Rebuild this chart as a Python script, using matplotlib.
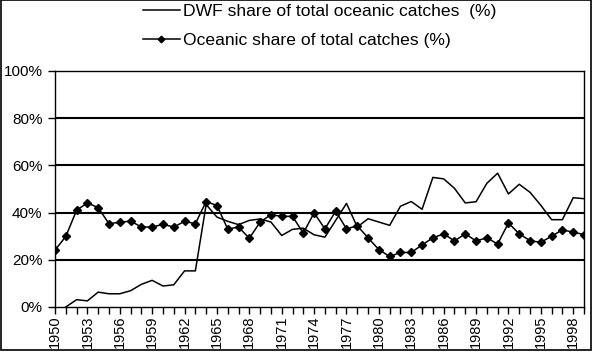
import matplotlib
matplotlib.use('Agg')
import matplotlib.pyplot as plt
from matplotlib.ticker import FixedLocator, PercentFormatter
import numpy as np

plt.rcParams['font.family'] = ['Liberation Sans', 'DejaVu Sans']

# Dados
years = list(range(1950, 2000))
dwf_share = [np.nan, 0.0, 3.1, 2.6, 6.3, 5.6, 5.6, 6.9, 9.6, 11.3,
             8.9, 9.4, 15.3, 15.3, 43.4, 38.1, 36.3, 34.9, 36.7, 37.3,
             36.0, 30.3, 32.9, 33.4, 30.6, 29.6, 36.7, 43.9, 33.9, 37.4,
             36.0, 34.6, 42.7, 44.7, 41.4, 54.9, 54.3, 50.3, 44.1, 44.6,
             52.4, 56.7, 47.9, 52.0, 48.6, 43.1, 37.0, 37.0, 46.3, 45.9]
oceanic_share = [24.1, 29.9, 41.0, 44.1, 42.1, 35.3, 35.9, 36.4, 33.9, 33.9,
                 35.0, 33.9, 36.3, 35.3, 44.7, 43.0, 33.0, 33.9, 29.1, 36.0,
                 39.1, 38.4, 38.4, 31.3, 39.9, 33.1, 40.6, 33.1, 34.4, 29.3,
                 24.3, 21.4, 23.1, 23.1, 26.3, 29.3, 31.0, 28.0, 31.0, 28.0,
                 29.3, 26.7, 35.6, 31.0, 28.1, 27.4, 30.0, 32.7, 31.7, 30.7]
yticks = [0, 20, 40, 60, 80, 100]

fig = plt.figure(figsize=(5.92, 3.52), dpi=100)
ax = fig.add_axes([55 / 592, 1 - 307 / 352, (584 - 55) / 592, (307 - 71) / 352])

x = np.arange(len(years))
l1, = ax.plot(x, dwf_share, color='black', lw=1.1)
l2, = ax.plot(x, oceanic_share, color='black', lw=1.1, marker='D', markersize=4.2)

ax.set_xlim(0, len(years) - 1)
ax.set_ylim(0, 100)
for v in yticks[1:-1]:
    ax.axhline(v, color='black', lw=1.5, zorder=0)

ax.set_yticks(yticks)
ax.yaxis.set_major_formatter(PercentFormatter(decimals=0))
ax.xaxis.set_major_locator(FixedLocator(x[::3]))
ax.xaxis.set_minor_locator(FixedLocator(x))
ax.set_xticklabels([str(y) for y in years[::3]], rotation=90, fontsize=10.5)
ax.tick_params(axis='y', labelsize=11, direction='out', length=5, width=1, pad=4)
ax.tick_params(axis='x', which='both', direction='out', length=5, width=1, pad=1)
for s in ax.spines.values():
    s.set_linewidth(1)

fig.legend([l1, l2], ['DWF share of total oceanic catches  (%)',
                      'Oceanic share of total catches (%)'],
           loc='upper left', bbox_to_anchor=(136 / 592, 1.01), frameon=False,
           fontsize=12.6, handlelength=2.1, handletextpad=0.2, labelspacing=0.79,
           borderaxespad=0, markerscale=0.8)

# moldura da figura
fig.patches.append(plt.Rectangle((0.001, 0.005), 0.997, 0.994, transform=fig.transFigure,
                                 fill=False, edgecolor='black', lw=1.2, zorder=10))

plt.savefig('out.png')
